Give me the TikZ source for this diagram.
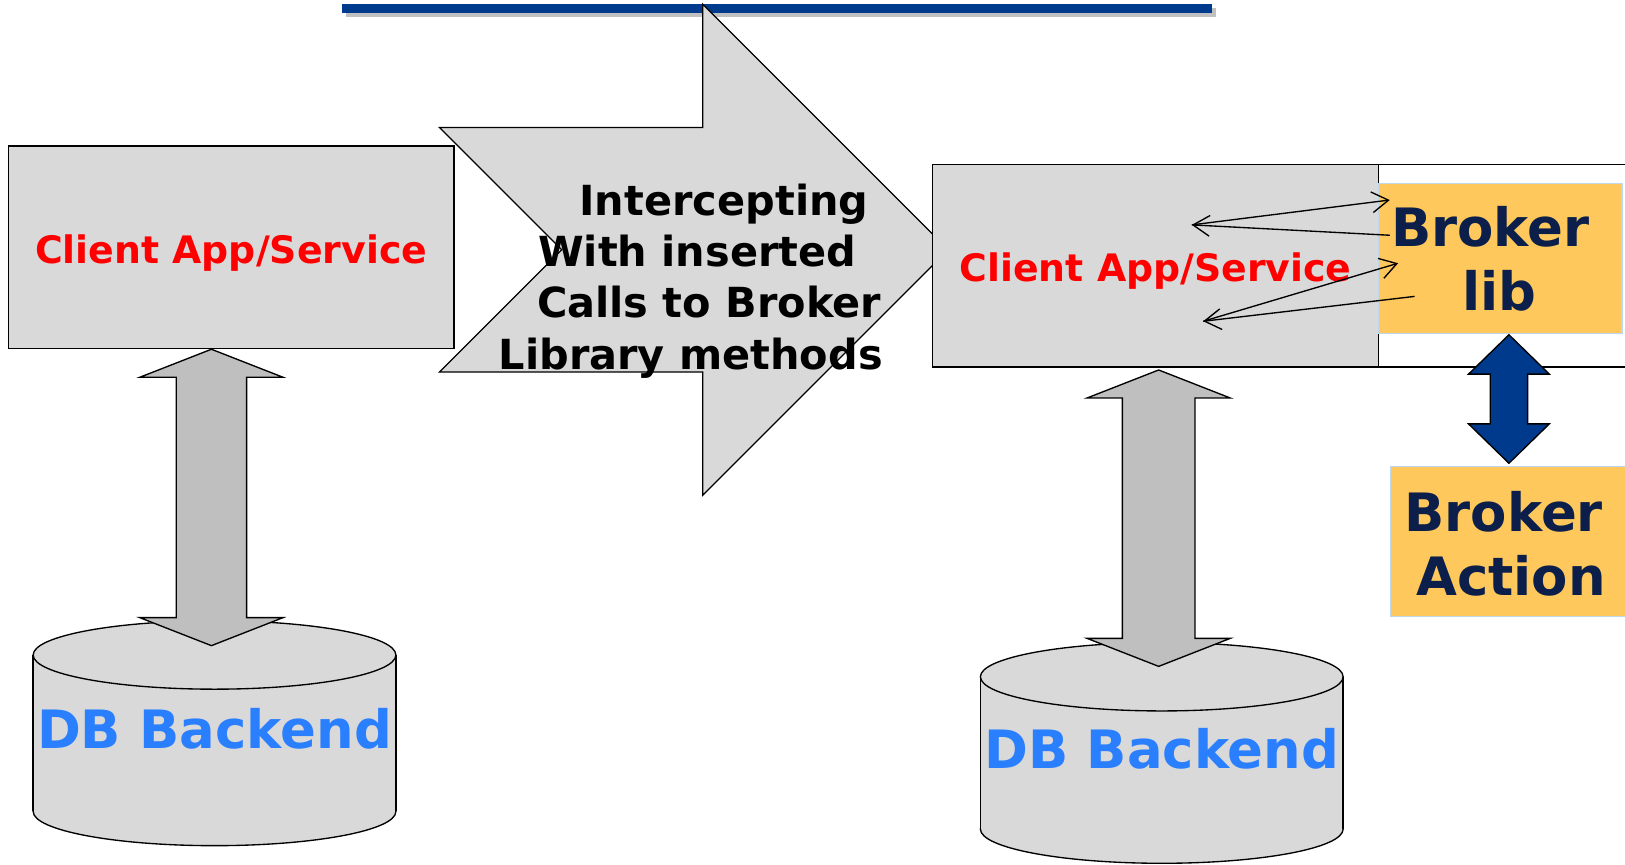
\documentclass[tikz,border=0pt]{standalone}
\usepackage{fontspec}
\setmainfont{DejaVu Sans}
\usetikzlibrary{arrows.meta}

\definecolor{boxgray}{HTML}{D9D9D9}
\definecolor{arrowgray}{HTML}{BFBFBF}
\definecolor{rulenavy}{HTML}{003A8C}
\definecolor{shadowgray}{HTML}{C0C0C0}
\definecolor{brokerfill}{HTML}{FFC85C}
\definecolor{brokeredge}{HTML}{BDD7EE}
\definecolor{brokertext}{HTML}{0B1F4A}
\definecolor{dbblue}{HTML}{2A7FFF}
\definecolor{appred}{HTML}{FF0000}

% vertical two-headed block arrow: fill, centre x, top tip y, bottom tip y,
% half head width, half shaft width, head length
\newcommand{\dblblock}[7]{%
  \draw[fill=#1, line width=1.3pt, line join=miter]
    (#2,#3) -- (#2+#5,#3+#7) -- (#2+#6,#3+#7) -- (#2+#6,#4-#7)
    -- (#2+#5,#4-#7) -- (#2,#4) -- (#2-#5,#4-#7) -- (#2-#6,#4-#7)
    -- (#2-#6,#3+#7) -- (#2-#5,#3+#7) -- cycle;}

% database drum: centre x, top ellipse y, bottom ellipse y, x radius, y radius
\newcommand{\drum}[5]{%
  \fill[boxgray] (#1-#4,#2) rectangle (#1+#4,#3);
  \draw[fill=boxgray, line width=1.3pt] (#1,#3) ellipse [x radius=#4, y radius=#5];
  \fill[boxgray] (#1-#4+0.7,#2) rectangle (#1+#4-0.7,#3);
  \draw[line width=1.3pt] (#1-#4,#2) -- (#1-#4,#3);
  \draw[line width=1.3pt] (#1+#4,#2) -- (#1+#4,#3);
  \draw[fill=boxgray, line width=1.3pt] (#1,#2) ellipse [x radius=#4, y radius=#5];}

\tikzset{
  grybox/.style={draw, fill=boxgray, line width=1.3pt, inner sep=0pt},
  brkbox/.style={draw=brokeredge, fill=brokerfill, line width=1.2pt, inner sep=0pt},
  apptext/.style={text=appred, inner sep=0pt, anchor=base,
    font=\fontsize{36.5}{40}\selectfont\bfseries},
  dbtext/.style={text=dbblue, inner sep=0pt, anchor=base,
    font=\fontsize{51}{56}\selectfont\bfseries},
  brktext/.style={text=brokertext, inner sep=0pt, anchor=base,
    font=\fontsize{51}{56}\selectfont\bfseries},
  steptext/.style={text=black, inner sep=0pt, anchor=base west,
    font=\fontsize{40}{44}\selectfont\bfseries},
  callarrow/.style={line width=1.3pt, -{Straight Barb[length=16pt,width=20pt]}},
}

\begin{document}
\begin{tikzpicture}[x=1pt, y=-1pt]
\useasboundingbox (0,0) rectangle (1568,834);
\clip (0,0) rectangle (1568,834);

% heading rule with its drop shadow
\fill[shadowgray] (334,7.9) rectangle (1173,16.3);
\fill[rulenavy] (330,3.9) rectangle (1169,12.3);

% broad arrow standing for the interception step
\draw[fill=boxgray, line width=1.2pt, line join=miter]
  (424,123) -- (678,123) -- (678,4) -- (915,241) -- (678,478)
  -- (678,359) -- (424,359) -- (542,241) -- cycle;
\node[steptext] (s1) at (559,208) {Intercepting};
\node[steptext] (s2) at (519,257) {With inserted};
\node[steptext] (s3) at (518,306) {Calls to Broker};
\node[steptext] (s4) at (481,357) {Library methods};

% left side: original client and its database
\node[grybox, minimum width=430pt, minimum height=195pt] (lapp) at (223,238.5) {};
\node[apptext] (lapptxt) at (223,254) {Client App/Service};
\drum{207}{632}{783}{175}{33}
\node[dbtext] (ldb) at (207,722) {DB Backend};
\dblblock{arrowgray}{204}{337}{623}{69}{34}{27}

% right side: instrumented client, broker library and broker action
\node[draw, fill=white, line width=1.3pt, minimum width=290pt, minimum height=195pt,
      inner sep=0pt] (lane) at (1475,256.5) {};
\node[grybox, minimum width=430pt, minimum height=195pt] (rapp) at (1115,256.5) {};
\node[apptext] (rapptxt) at (1115,272) {Client App/Service};
\node[brkbox, minimum width=235pt, minimum height=145pt] (lib) at (1447.5,249.5) {};
\node[brktext] (libl1) at (1438,238) {Broker};
\node[brktext] (libl2) at (1447,300) {lib};
\node[brkbox, minimum width=228pt, minimum height=145pt] (act) at (1456,522.5) {};
\node[brktext] (actl1) at (1451,513) {Broker};
\node[brktext] (actl2) at (1458,575) {Action};

\drum{1121}{653}{800}{175}{33}
\node[dbtext] (rdb) at (1121,742) {DB Backend};
\dblblock{arrowgray}{1118}{357}{643}{69}{35}{27}
\dblblock{rulenavy}{1456}{323}{447}{39}{18}{38}

% calls between the client code and the broker library
\coordinate (c1a) at (1150,217);
\coordinate (c1b) at (1341,193);
\coordinate (c1c) at (1341,227);
\coordinate (c2a) at (1161,310);
\coordinate (c2b) at (1349,254);
\coordinate (c2c) at (1365,286);
\draw[callarrow] (c1a) -- (c1b);
\draw[callarrow] (c1c) -- (c1a);
\draw[callarrow] (c2a) -- (c2b);
\draw[callarrow] (c2c) -- (c2a);
\end{tikzpicture}
\end{document}
